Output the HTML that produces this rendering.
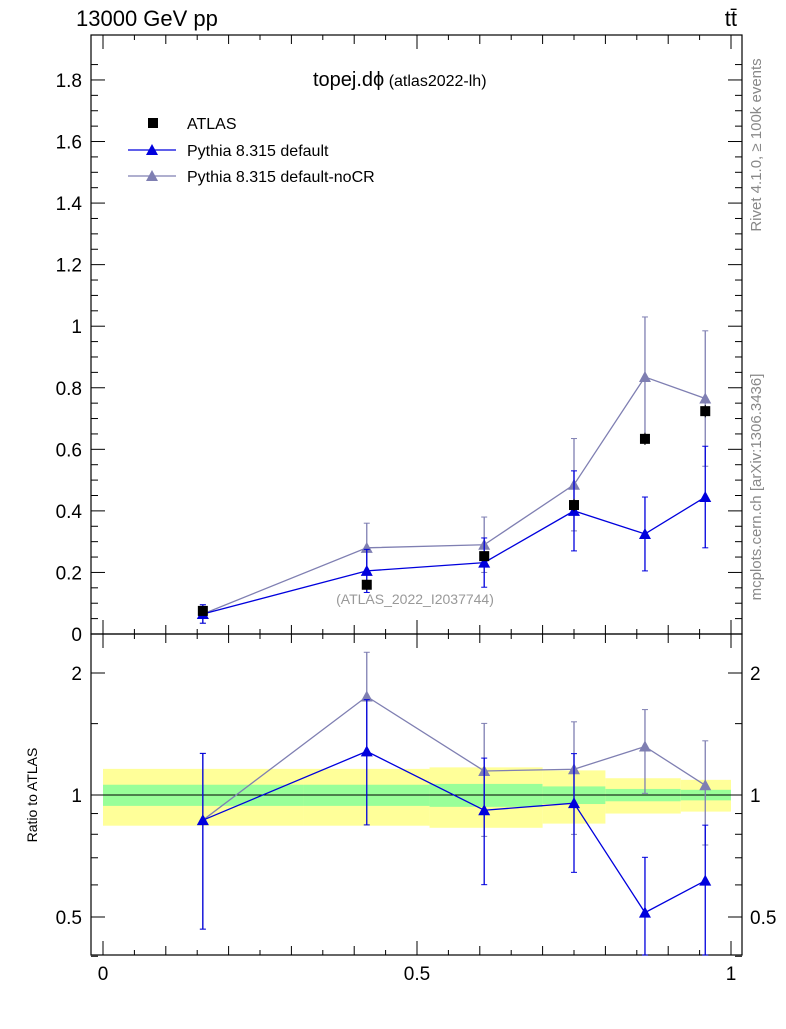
<!DOCTYPE html>
<html><head><meta charset="utf-8"><style>
body{margin:0;background:#fff;font-family:"Liberation Sans",sans-serif}
</style></head><body>
<svg id="c" width="786" height="1024" xmlns="http://www.w3.org/2000/svg" font-family="Liberation Sans, sans-serif"></svg>
<script>
const xs=[0.159,0.42,0.607,0.75,0.863,0.959];
const binEdges=[0,0.32,0.52,0.7,0.8,0.92,1];
const atlas=[0.075,0.16,0.253,0.419,0.634,0.724];
const atlasErr=[0.01,0.012,0.015,0.02,0.02,0.02];
const bandGreen=[0.06,0.06,0.065,0.05,0.035,0.03];
const bandYellow=[0.16,0.16,0.17,0.15,0.1,0.09];
const pyDef=[0.065,0.205,0.232,0.40,0.325,0.445];
const pyDefErr=[0.03,0.07,0.08,0.13,0.12,0.165];
const pyNoCR=[0.065,0.28,0.29,0.485,0.835,0.765];
const pyNoCRErr=[0.03,0.08,0.09,0.15,0.195,0.22];
const yTicks=[0,0.2,0.4,0.6,0.8,1,1.2,1.4,1.6,1.8];
const yLabels=["0","0.2","0.4","0.6","0.8","1","1.2","1.4","1.6","1.8"];
const rTicks=[0.5,1,2];
const rLabels=["0.5","1","2"];
const xTicks=[0,0.5,1];
const xLabels=["0","0.5","1"];

const svg=document.getElementById('c');
const NS='http://www.w3.org/2000/svg';
function mk(t,a,name,parent){const e=document.createElementNS(NS,t);for(const k in a)e.setAttribute(k,a[k]);


(parent||svg).appendChild(e);return e;}
const L=91,R=742,T=35,M=634,B=955;
const X=v=>103+628*v;
const Y=v=>634-307.8*v;
const RY=v=>795-122*Math.log2(v);

for(let i=0;i<xs.length;i++){
 const x0=X(binEdges[i]),x1=X(binEdges[i+1]);
 mk('rect',{x:x0,y:RY(1+bandYellow[i]),width:x1-x0,height:RY(1-bandYellow[i])-RY(1+bandYellow[i]),fill:'#ffff99'},'band-yellow');
 mk('rect',{x:x0,y:RY(1+bandGreen[i]),width:x1-x0,height:RY(1-bandGreen[i])-RY(1+bandGreen[i]),fill:'#99ff99'},'band-green');
}
mk('line',{x1:L,x2:R,y1:RY(1),y2:RY(1),stroke:'#000','stroke-width':1},'ratio-unity-line');

mk('rect',{x:L,y:T,width:R-L,height:M-T,fill:'none',stroke:'#000','stroke-width':1.2},'main-frame');
mk('rect',{x:L,y:M,width:R-L,height:B-M,fill:'none',stroke:'#000','stroke-width':1.2},'ratio-frame');

for(let v=0;v<=1.9;v+=0.05){const y=Y(v);if(y<T)break;const maj=Math.abs(v/0.2-Math.round(v/0.2))<1e-6;const l=maj?14:7;
 mk('line',{x1:L,x2:L+l,y1:y,y2:y,stroke:'#000'},'y-tick');mk('line',{x1:R,x2:R-l,y1:y,y2:y,stroke:'#000'},'y-tick');}
yTicks.forEach((v,i)=>{const t=mk('text',{x:L-9,y:Y(v)+7,'text-anchor':'end','font-size':19},'y-tick-label');t.textContent=yLabels[i];});
[0.4,0.5,0.6,0.7,0.8,0.9,1,1.5,2].forEach(v=>{const y=RY(v);const maj=[0.5,1,2].includes(v);const l=maj?14:7;
 mk('line',{x1:L,x2:L+l,y1:y,y2:y,stroke:'#000'},'ratio-tick');mk('line',{x1:R,x2:R-l,y1:y,y2:y,stroke:'#000'},'ratio-tick');});
rTicks.forEach((v,i)=>{let t=mk('text',{x:L-9,y:RY(v)+7,'text-anchor':'end','font-size':19},'ratio-tick-label');t.textContent=rLabels[i];
 t=mk('text',{x:R+8,y:RY(v)+7,'font-size':19},'ratio-tick-label-right');t.textContent=rLabels[i];});
for(let k=0;k<=20;k++){const v=k*0.05;const x=X(v);const maj=k%10==0;const l=maj?14:(k%2==0?9:5);
 mk('line',{x1:x,x2:x,y1:B,y2:B-l,stroke:'#000'},'x-tick');mk('line',{x1:x,x2:x,y1:M,y2:M-l,stroke:'#000'},'x-tick');
 mk('line',{x1:x,x2:x,y1:T,y2:T+l,stroke:'#000'},'x-tick');mk('line',{x1:x,x2:x,y1:M,y2:M+l,stroke:'#000'},'x-tick');}
xTicks.forEach((v,i)=>{const t=mk('text',{x:X(v),y:980,'text-anchor':'middle','font-size':19},'x-tick-label');t.textContent=xLabels[i];});

function tri(x,y,col,name){mk('polygon',{points:`${x},${y-6} ${x-6},${y+5} ${x+6},${y+5}`,fill:col},name);}
function series(vals,errs,col,name,yf,ratio){
 const pts=xs.map((x,i)=>{const v=ratio?vals[i]/atlas[i]:vals[i];return [X(x),yf(v)];});
 mk('polyline',{points:pts.map(p=>p.join(',')).join(' '),fill:'none',stroke:col,'stroke-width':1.3},name+'-line');
 xs.forEach((x,i)=>{const v=ratio?vals[i]/atlas[i]:vals[i];const e=ratio?errs[i]/atlas[i]:errs[i];
  const lo=ratio?Math.max(v-e,0.3):Math.max(v-e,0);
  let y1=yf(v+e),y2=yf(lo);y1=Math.max(y1,ratio?M:T);y2=Math.min(y2,ratio?B:M);
  mk('line',{x1:X(x),x2:X(x),y1:y1,y2:y2,stroke:col,'stroke-width':1.3},name+'-errorbar');
  mk('line',{x1:X(x)-3,x2:X(x)+3,y1:y1,y2:y1,stroke:col},name+'-errcap');
  mk('line',{x1:X(x)-3,x2:X(x)+3,y1:y2,y2:y2,stroke:col},name+'-errcap');
  tri(X(x),yf(v),col,name+'-point');});
}
series(pyNoCR,pyNoCRErr,'#7f7fb2','pythia-nocr',Y,false);
series(pyDef,pyDefErr,'#0000dd','pythia-default',Y,false);
xs.forEach((x,i)=>{mk('line',{x1:X(x),x2:X(x),y1:Y(atlas[i]+atlasErr[i]),y2:Y(atlas[i]-atlasErr[i]),stroke:'#000'},'atlas-errorbar');
 mk('rect',{x:X(x)-5,y:Y(atlas[i])-5,width:10,height:10,fill:'#000'},'atlas-point');});
series(pyNoCR,pyNoCRErr,'#7f7fb2','ratio-nocr',RY,true);
series(pyDef,pyDefErr,'#0000dd','ratio-default',RY,true);

function txt(s,a,name){const t=mk('text',a,name);t.textContent=s;return t;}
txt('13000 GeV pp',{x:76,y:26,'font-size':22},'header-energy');
txt('tt̄',{x:737,y:26,'font-size':22,'text-anchor':'end'},'header-process');
const tt=txt('topej.dϕ',{x:313,y:86,'font-size':20},'plot-title');
const ts=document.createElementNS(NS,'tspan');ts.setAttribute('font-size','16');ts.textContent=' (atlas2022-lh)';tt.appendChild(ts);
txt('(ATLAS_2022_I2037744)',{x:415,y:604,'font-size':14,fill:'#999','text-anchor':'middle'},'analysis-id');
mk('rect',{x:148,y:118,width:10,height:10,fill:'#000'},'legend-atlas-marker');
txt('ATLAS',{x:187,y:129,'font-size':16},'legend-atlas-label');
mk('line',{x1:128,x2:176,y1:150,y2:150,stroke:'#0000dd','stroke-width':1.3},'legend-default-line');tri(152,150,'#0000dd','legend-default-marker');
txt('Pythia 8.315 default',{x:187,y:156,'font-size':16},'legend-default-label');
mk('line',{x1:128,x2:176,y1:176,y2:176,stroke:'#7f7fb2','stroke-width':1.3},'legend-nocr-line');tri(152,176,'#7f7fb2','legend-nocr-marker');
txt('Pythia 8.315 default-noCR',{x:187,y:182,'font-size':16},'legend-nocr-label');
txt('Ratio to ATLAS',{x:0,y:0,'font-size':14,transform:'translate(37,795) rotate(-90)','text-anchor':'middle'},'ratio-y-title');
txt('Rivet 4.1.0, ≥ 100k events',{x:0,y:0,'font-size':15,fill:'#888',transform:'translate(761,145) rotate(-90)','text-anchor':'middle'},'rivet-label');
txt('mcplots.cern.ch [arXiv:1306.3436]',{x:0,y:0,'font-size':15,fill:'#888',transform:'translate(761,487) rotate(-90)','text-anchor':'middle'},'mcplots-label');
</script>
</body></html>
